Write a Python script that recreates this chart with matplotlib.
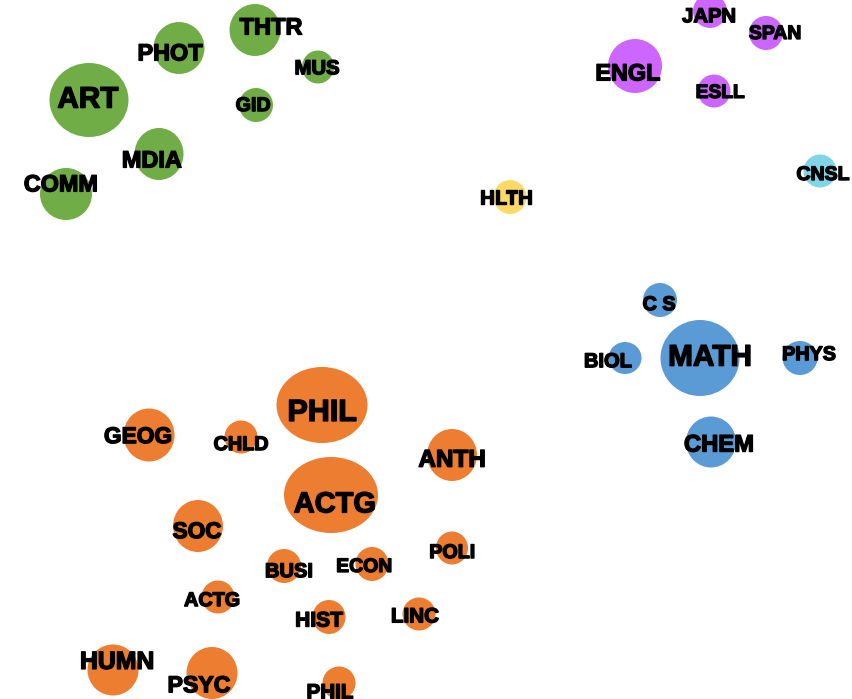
#bubble_departments.py
import matplotlib
matplotlib.use("Agg")
from matplotlib import pyplot as plt
from matplotlib.patches import Ellipse
import matplotlib.patheffects as pe

# Departments, group, bubble centre (px), radii (px)
names = ['ART', 'PHOT', 'THTR', 'MUS', 'GID', 'MDIA', 'COMM',
         'ENGL', 'JAPN', 'SPAN', 'ESLL', 'CNSL', 'HLTH',
         'C S', 'MATH', 'BIOL', 'PHYS', 'CHEM',
         'PHIL', 'GEOG', 'CHLD', 'ANTH', 'ACTG', 'SOC', 'BUSI', 'ECON', 'POLI',
         'ACTG', 'HIST', 'LINC', 'HUMN', 'PSYC', 'PHIL']
groups = ['arts'] * 7 + ['lang'] * 4 + ['cnsl', 'hlth'] + ['sci'] * 5 + ['soc'] * 15
cx = [89, 179, 255, 318, 256, 159, 66,
      635, 710, 766, 714, 820, 510,
      660, 700, 625, 800, 711,
      322, 149, 241, 452, 331, 198, 284, 372, 452,
      218, 329, 419, 113, 212, 339]
cy = [100, 48, 30, 67, 105, 154, 194,
      66, 11, 33, 91, 171, 197,
      300, 358, 358, 358, 442,
      405, 435, 437, 455, 495, 526, 566, 564, 548,
      597, 617, 614, 670, 673, 683]
rx = [39.5, 25.5, 25.5, 16, 17, 24.5, 26,
      27, 17, 17, 16.5, 16.5, 16.5,
      17, 39.5, 16.5, 17.5, 25,
      45.5, 25.5, 16.5, 25, 47, 25, 17, 16.5, 16,
      16.5, 16.5, 16.5, 25.5, 25.5, 16.5]
ry = [37, 26, 26, 16.5, 17, 26, 26,
      27, 17, 17, 16.5, 16.5, 17,
      17, 38, 16, 17, 25.5,
      38, 26.5, 16.5, 26, 38, 26, 17, 17, 16.5,
      16.5, 17, 16.5, 25.5, 26, 16.5]
# label centres (px) and label size (px)
lx = [88, 170, 271, 317, 253, 152, 61,
      628, 709, 775, 720, 823, 506,
      659, 710, 608, 809, 719,
      322, 138, 241, 452, 335, 197, 289, 364, 452,
      212, 319, 415, 117, 199, 330]
ly = [97, 52, 26, 67, 104, 159, 183,
      72, 15, 32, 91, 173, 197,
      303, 355, 360, 353, 443,
      410, 435, 443, 458, 502, 530, 570, 565, 551,
      599, 619, 615, 660, 684, 691]
fpx = [29.7, 23.4, 23.6, 20.3, 19.7, 23.5, 23.4,
       23.4, 20.2, 19.4, 19.2, 19.5, 20.3,
       19.8, 29.8, 20.1, 19.8, 23.8,
       30.5, 22.7, 19.8, 24.3, 29, 22.6, 20.1, 19.4, 19.7,
       19.8, 21, 20.6, 24.8, 23.1, 20.6]

colours = {'arts': '#70AD47', 'lang': '#CC66FF', 'cnsl': '#7FD4E8',
           'hlth': '#FFD966', 'sci': '#5B9BD5', 'soc': '#ED7D31'}

fig = plt.figure(figsize=(8.52, 6.99), dpi=100)
ax = fig.add_axes([0, 0, 1, 1])
ax.set_xlim(0, 852)
ax.set_ylim(699, 0)
ax.axis('off')

for i in range(len(names)):
    ax.add_patch(Ellipse((cx[i], cy[i]), 2 * rx[i], 2 * ry[i],
                         facecolor=colours[groups[i]], edgecolor='none'))

for i in range(len(names)):
    # baseline so the caps sit centred on ly
    ax.text(lx[i], ly[i] + 0.358 * fpx[i], names[i], ha='center', va='baseline',
            fontsize=fpx[i] * 0.72, fontweight='bold', family='Liberation Sans',
            color='black',
            path_effects=[pe.withStroke(linewidth=1.0, foreground='black')])

fig.savefig('out.png', dpi=100)
